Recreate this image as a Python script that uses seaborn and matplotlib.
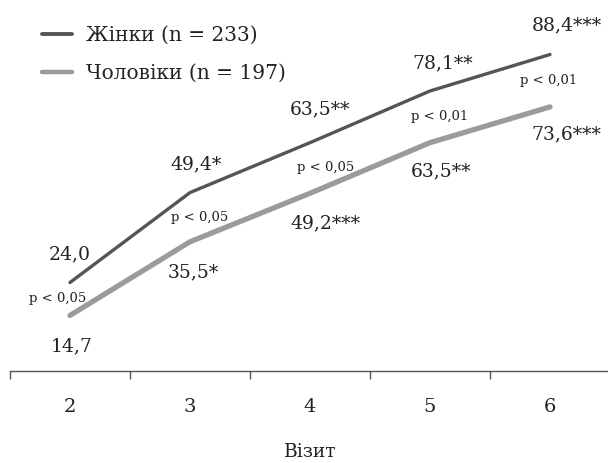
import matplotlib
matplotlib.use("Agg")
from matplotlib import pyplot as plt
from matplotlib.lines import Line2D
import pandas as pd
import seaborn as sns

visits = [2, 3, 4, 5, 6]
women = [24.0, 49.4, 63.5, 78.1, 88.4]
men = [14.7, 35.5, 49.2, 63.5, 73.6]
women_stars = ["", "*", "**", "**", "***"]
men_stars = ["", "*", "***", "**", "***"]
p_labels = ["p < 0,05", "p < 0,05", "p < 0,05", "p < 0,01", "p < 0,01"]
series_names = ["Жінки (n = 233)", "Чоловіки (n = 197)"]

sns.set_style("white")
plt.rcParams["font.family"] = ["DejaVu Serif"]

df = pd.DataFrame({
    "visit": visits * 2,
    "value": women + men,
    "group": [series_names[0]] * 5 + [series_names[1]] * 5,
})

fig = plt.figure(figsize=(6.08, 4.63), dpi=100)
ax = fig.add_axes([10 / 608, 92 / 463, 600 / 608, 371 / 463])

palette = {series_names[0]: "#555555", series_names[1]: "#9b9b9b"}
sns.lineplot(data=df, x="visit", y="value", hue="group", palette=palette,
             ax=ax, legend=False)
ax.lines[0].set_linewidth(2.4)
ax.lines[1].set_linewidth(3.8)

ax.set_xlim(1.5, 6.5)
ax.set_ylim(-1.0, 103.8)

txt = "#222222"
# value labels (offsets in points)
w_off = [(0, 20), (4, 20), (7, 24), (9, 20), (12, 21)]
m_off = [(1, -22), (2, -22), (11, -22), (8, -21), (12, -20)]
p_off = [(-9, 0), (7, 0), (11, 0), (7, 0), (-1, 0)]
for i, x in enumerate(visits):
    ax.annotate(f"{women[i]:.1f}".replace(".", ",") + women_stars[i],
                (x, women[i]), xytext=w_off[i], textcoords="offset points",
                ha="center", va="center", fontsize=13.5, color=txt)
    ax.annotate(f"{men[i]:.1f}".replace(".", ",") + men_stars[i],
                (x, men[i]), xytext=m_off[i], textcoords="offset points",
                ha="center", va="center", fontsize=13.5, color=txt)
    ax.annotate(p_labels[i], (x, (women[i] + men[i]) / 2), xytext=p_off[i],
                textcoords="offset points", ha="center", va="center",
                fontsize=9.5, color=txt)

for s in ["left", "right", "top"]:
    ax.spines[s].set_visible(False)
ax.spines["bottom"].set_color("#555555")
ax.spines["bottom"].set_linewidth(1.0)
ax.set_yticks([])
ax.set_xticks(visits)
ax.set_xticks([1.5, 2.5, 3.5, 4.5, 5.5, 6.5], minor=True)
ax.tick_params(axis="x", which="major", length=0, pad=19.5, labelsize=14,
               labelcolor=txt)
ax.tick_params(axis="x", which="minor", length=6, width=1.0, color="#555555",
               direction="out", bottom=True)
ax.set_xlabel("Візит", fontsize=13.5, color=txt, labelpad=19.5)
ax.set_ylabel("")

handles = [Line2D([], [], color="#555555", lw=2.8),
           Line2D([], [], color="#9b9b9b", lw=3.2)]
ax.legend(handles, series_names, loc="upper left",
          bbox_to_anchor=(42 / 608, 1 - 26 / 463), bbox_transform=fig.transFigure,
          frameon=False, fontsize=14.5, handlelength=1.5, handletextpad=0.7,
          labelspacing=0.95, borderpad=0, borderaxespad=0, labelcolor=txt)

fig.savefig("out.png", dpi=100)
